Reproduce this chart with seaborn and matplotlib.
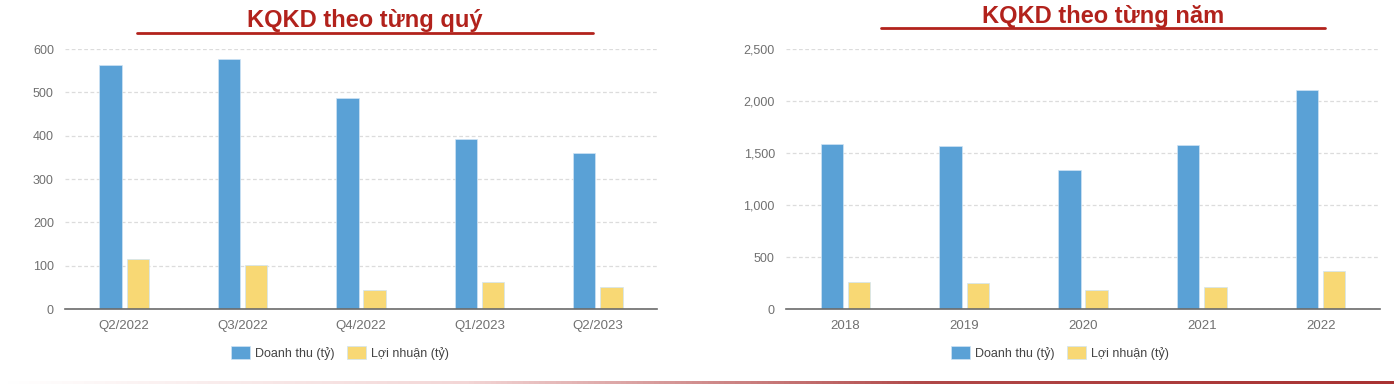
import numpy as np
import pandas as pd
import matplotlib
matplotlib.use('Agg')
import matplotlib.pyplot as plt
from matplotlib.ticker import FuncFormatter, FixedLocator
from matplotlib.lines import Line2D
from matplotlib.colors import LinearSegmentedColormap
import seaborn as sns

# --- data ---
QUARTERS = ['Q2/2022', 'Q3/2022', 'Q4/2022', 'Q1/2023', 'Q2/2023']
Q_REVENUE = [564, 576, 487, 393, 359]
Q_PROFIT = [115, 102, 44, 63, 51]

YEARS = ['2018', '2019', '2020', '2021', '2022']
Y_REVENUE = [1587, 1568, 1338, 1578, 2108]
Y_PROFIT = [258, 252, 187, 216, 361]

SERIES = ['Doanh thu (tỷ)', 'Lợi nhuận (tỷ)']
COLORS = ['#5AA1D6', '#F8D874']
TITLE_RED = '#B2221C'

sns.set_style('white')
plt.rcParams['font.family'] = ['Liberation Sans Narrow', 'Liberation Sans', 'DejaVu Sans']


def long_table(cats, rev, prof):
    return pd.DataFrame({
        'cat': cats * 2,
        'value': rev + prof,
        'series': [SERIES[0]] * len(cats) + [SERIES[1]] * len(cats),
    })


def draw_panel(fig, rect, cats, rev, prof, yticks):
    ax = fig.add_axes(rect)
    df = long_table(cats, rev, prof)
    sns.barplot(data=df, x='cat', y='value', hue='series', order=cats,
                hue_order=SERIES, palette=COLORS, saturation=1,
                width=0.46, gap=0.18, edgecolor='#cfe4f5', linewidth=0.5,
                ax=ax, legend=True)
    handles, labels = ax.get_legend_handles_labels()
    ax.get_legend().remove()

    ax.set_xlim(-0.5, len(cats) - 0.5)
    ax.set_ylim(0, yticks[-1])
    ax.set_yticks(yticks)
    ax.yaxis.set_major_formatter(FuncFormatter(lambda v, p: f'{v:,.0f}'))
    ax.set_xlabel('')
    ax.set_ylabel('')
    for s in ['top', 'right', 'left']:
        ax.spines[s].set_visible(False)
    ax.spines['bottom'].set_color('#6b6b6b')
    ax.spines['bottom'].set_linewidth(1.2)

    # dashed horizontal gridlines
    ax.yaxis.grid(True, linestyle=(0, (3, 2)), color='#dcdcdc', linewidth=0.9)
    ax.set_axisbelow(True)
    ax.tick_params(axis='y', length=0, labelsize=9, labelcolor='#707070', pad=8)
    ax.tick_params(axis='x', which='major', length=0, labelsize=9.5,
                   labelcolor='#707070', pad=8)
    # tick marks at category boundaries
    ax.xaxis.set_minor_locator(FixedLocator(np.arange(-0.5, len(cats), 1.0)))
    ax.tick_params(axis='x', which='minor', length=5, color='#6b6b6b', width=1)
    return ax, handles, labels


fig = plt.figure(figsize=(13.94, 3.84), dpi=100)

W, H = 1394, 384
ax1, h1, l1 = draw_panel(fig, [65 / W, 1 - 309 / H, 592 / W, 260 / H],
                         QUARTERS, Q_REVENUE, Q_PROFIT,
                         [0, 100, 200, 300, 400, 500, 600])
ax2, h2, l2 = draw_panel(fig, [786 / W, 1 - 309 / H, 594 / W, 260 / H],
                         YEARS, Y_REVENUE, Y_PROFIT,
                         [0, 500, 1000, 1500, 2000, 2500])

# titles with red underline
fig.text(365 / W, 1 - 20 / H, 'KQKD theo từng quý', ha='center', va='center',
         fontsize=17, fontweight='bold', color=TITLE_RED,
         family=['Liberation Sans', 'DejaVu Sans'])
fig.add_artist(Line2D([137 / W, 593 / W], [1 - 33 / H] * 2, color=TITLE_RED, lw=2))
fig.text(1103 / W, 1 - 16 / H, 'KQKD theo từng năm', ha='center', va='center',
         fontsize=17, fontweight='bold', color=TITLE_RED,
         family=['Liberation Sans', 'DejaVu Sans'])
fig.add_artist(Line2D([881 / W, 1325 / W], [1 - 28 / H] * 2, color=TITLE_RED, lw=2))

# legends below each panel
for hs, ls, cx in [(h1, l1, 340), (h2, l2, 1060)]:
    fig.legend(hs, ls, loc='center', bbox_to_anchor=(cx / W, 1 - 353 / H),
               ncol=2, frameon=False, fontsize=9, handlelength=1.5,
               handleheight=1.2, handletextpad=0.4, columnspacing=1.0,
               labelcolor='#444444')

# faint gradient rule along the bottom edge
gax = fig.add_axes([0, 0, 1, 3 / H])
grad = np.linspace(0, 1, 256).reshape(1, -1)
cmap = LinearSegmentedColormap.from_list('rule', ['#ffffff', '#f3d6d6', '#b04848', '#a83232'])
gax.imshow(grad, aspect='auto', cmap=cmap)
gax.axis('off')

fig.savefig('out.png', dpi=100)
